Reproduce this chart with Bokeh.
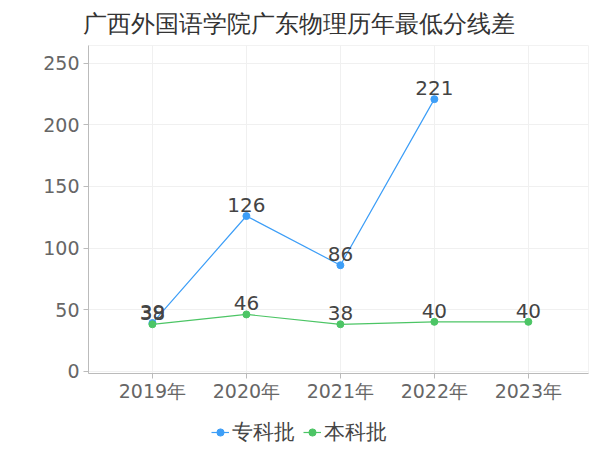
from bokeh.plotting import figure
from bokeh.layouts import column
from bokeh.models import Range1d, FixedTicker, Legend, LegendItem, ColumnDataSource
from bokeh.core.properties import value
from bokeh.embed import file_html
from bokeh.resources import INLINE

title_text = "广西外国语学院广东物理历年最低分线差"
years = ["2019年", "2020年", "2021年", "2022年", "2023年"]
zhuanke_x = [0, 1, 2, 3]
zhuanke = [39, 126, 86, 221]
benke_x = [0, 1, 2, 3, 4]
benke = [38, 46, 38, 40, 40]
series_names = ["专科批", "本科批"]
y_ticks = [0, 50, 100, 150, 200, 250]

BLUE = "#3d9ef7"
GREEN = "#4cc565"
FONT = "DejaVu Sans"

p = figure(frame_width=500, frame_height=328, output_backend="svg", toolbar_location=None,
           x_range=Range1d(-0.68, 4.64), y_range=Range1d(-2, 264.6),
           min_border_left=88, min_border_right=8, min_border_top=43, min_border_bottom=36)

p.title.text = title_text
p.title.text_font = FONT
p.title.text_font_size = "24px"
p.title.text_font_style = "normal"
p.title.text_color = "#333333"
p.title.text_line_height = 1.0
p.title.align = "left"
p.title.offset = -6
p.title.standoff = 15

p.outline_line_color = "#f2f2f2"
p.xgrid.grid_line_color = "#f0f0f0"
p.ygrid.grid_line_color = "#f0f0f0"

p.xaxis.ticker = FixedTicker(ticks=benke_x)
p.xaxis.major_label_overrides = {i: y for i, y in enumerate(years)}
p.yaxis.ticker = FixedTicker(ticks=y_ticks)
for ax in (p.xaxis, p.yaxis):
    ax.axis_line_color = "#bbbbbb"
    ax.major_tick_line_color = "#bbbbbb"
    ax.minor_tick_line_color = None
    ax.major_tick_in = 0
    ax.major_tick_out = 5
    ax.major_label_text_font = FONT
    ax.major_label_text_color = "#666666"
p.xaxis.major_label_text_font_size = "19px"
p.yaxis.major_label_text_font_size = "19px"
p.yaxis.major_label_standoff = 4
p.xaxis.major_label_standoff = 1

src_b = ColumnDataSource(dict(x=zhuanke_x, y=zhuanke, t=[str(v) for v in zhuanke]))
src_g = ColumnDataSource(dict(x=benke_x, y=benke, t=[str(v) for v in benke]))

p.line("x", "y", source=src_b, line_color=BLUE, line_width=1.2)
p.scatter("x", "y", source=src_b, size=7, fill_color=BLUE, line_color=BLUE)
p.line("x", "y", source=src_g, line_color=GREEN, line_width=1.2)
p.scatter("x", "y", source=src_g, size=7, fill_color=GREEN, line_color=GREEN)

for src in (src_g, src_b):
    p.text("x", "y", text="t", source=src, text_align="center", text_baseline="bottom",
           y_offset=-4, text_font=value(FONT), text_font_size="20px", text_color="#444444")

# legend strip below the chart (its view is far from the data, so only the legend shows)
lf = figure(width=596, height=43, output_backend="svg", toolbar_location=None,
            x_range=Range1d(0, 1), y_range=Range1d(1000, 1001),
            min_border_left=0, min_border_right=0, min_border_top=0, min_border_bottom=0)
lf.axis.visible = False
lf.grid.visible = False
lf.outline_line_color = None
elb = lf.line("x", "y", source=src_b, line_color=BLUE, line_width=1.2)
esb = lf.scatter("x", "y", source=src_b, size=7, fill_color=BLUE, line_color=BLUE)
elg = lf.line("x", "y", source=src_g, line_color=GREEN, line_width=1.2)
esg = lf.scatter("x", "y", source=src_g, size=7, fill_color=GREEN, line_color=GREEN)
legend = Legend(items=[LegendItem(label=series_names[0], renderers=[elb, esb]),
                       LegendItem(label=series_names[1], renderers=[elg, esg])],
                orientation="horizontal", location=(123, 6),
                label_text_font=FONT, label_text_font_size="20.5px", label_text_color="#444444",
                glyph_width=18, glyph_height=20, label_height=20, label_standoff=3, spacing=8,
                padding=0, margin=0, border_line_color=None, background_fill_alpha=0)
lf.add_layout(legend, "center")

layout = column(p, lf, spacing=0)
open("out.html", "w").write(file_html(layout, INLINE))
